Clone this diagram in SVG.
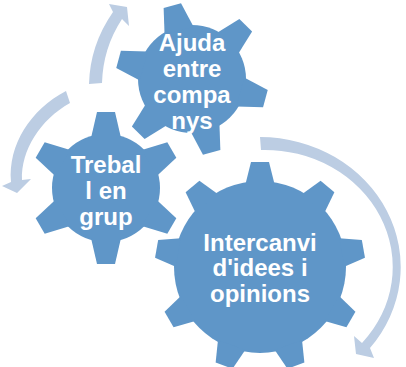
<svg xmlns="http://www.w3.org/2000/svg" xmlns:xlink="http://www.w3.org/1999/xlink" width="406" height="367" viewBox="0 0 406 367">
<style>
.g{fill:#5F96C8}
.a{fill:#BCCDE3}
text{fill:#fff;font-family:"Liberation Sans",Arial,sans-serif;font-weight:bold;text-anchor:middle;font-size:24px}
</style>
<defs>
<polygon id="t1" class="g" points="-9,-105 9,-105 14.5,-83 -14.5,-83"/>
<polygon id="t2" class="g" points="-9,-76 9,-76 15,-50 -15,-50"/>
</defs>
<rect width="406" height="367" fill="#fff"/>
<g id="connectors">
<path class="a" d="M89,84 Q90,45 113,12 L109,4 L127,7 L129,26 L122,19 Q103,48 102,83 Z"/>
<path class="a" d="M66,91 C30,110 8,145 11,182 L2,186 L17,193 L31,179 L22,180 C21,150 40,120 70,103 Z"/>
<path class="a" d="M260,137 A141,130 0 0 1 370,348 L374,358 L356,354 L354,336 L362,343 A128,117 0 0 0 261,150 Z"/>
</g>
<g id="node-ajuda" transform="translate(192 79)">
<circle class="g" r="54"/>
<use xlink:href="#t2" href="#t2" transform="rotate(-15)"/>
<use xlink:href="#t2" href="#t2" transform="rotate(45)"/>
<use xlink:href="#t2" href="#t2" transform="rotate(105)"/>
<use xlink:href="#t2" href="#t2" transform="rotate(165)"/>
<use xlink:href="#t2" href="#t2" transform="rotate(225)"/>
<use xlink:href="#t2" href="#t2" transform="rotate(285)"/>
<text x="0" y="-28">Ajuda</text>
<text x="0" y="-2">entre</text>
<text x="0" y="24">compa</text>
<text x="0" y="50">nys</text>
</g>
<g id="node-treball" transform="translate(106 188)">
<circle class="g" r="54"/>
<use xlink:href="#t2" href="#t2" transform="rotate(0)"/>
<use xlink:href="#t2" href="#t2" transform="rotate(60)"/>
<use xlink:href="#t2" href="#t2" transform="rotate(120)"/>
<use xlink:href="#t2" href="#t2" transform="rotate(180)"/>
<use xlink:href="#t2" href="#t2" transform="rotate(240)"/>
<use xlink:href="#t2" href="#t2" transform="rotate(300)"/>
<text x="0" y="-15">Trebal</text>
<text x="0" y="11">l en</text>
<text x="0" y="37">grup</text>
</g>
<g id="node-intercanvi" transform="translate(260 267)">
<circle class="g" r="86"/>
<use xlink:href="#t1" href="#t1" transform="rotate(0)"/>
<use xlink:href="#t1" href="#t1" transform="rotate(40)"/>
<use xlink:href="#t1" href="#t1" transform="rotate(80)"/>
<use xlink:href="#t1" href="#t1" transform="rotate(120)"/>
<use xlink:href="#t1" href="#t1" transform="rotate(160)"/>
<use xlink:href="#t1" href="#t1" transform="rotate(200)"/>
<use xlink:href="#t1" href="#t1" transform="rotate(240)"/>
<use xlink:href="#t1" href="#t1" transform="rotate(280)"/>
<use xlink:href="#t1" href="#t1" transform="rotate(320)"/>
<text x="0" y="-16">Intercanvi</text>
<text x="0" y="9">d'idees i</text>
<text x="0" y="35">opinions</text>
</g>
</svg>
